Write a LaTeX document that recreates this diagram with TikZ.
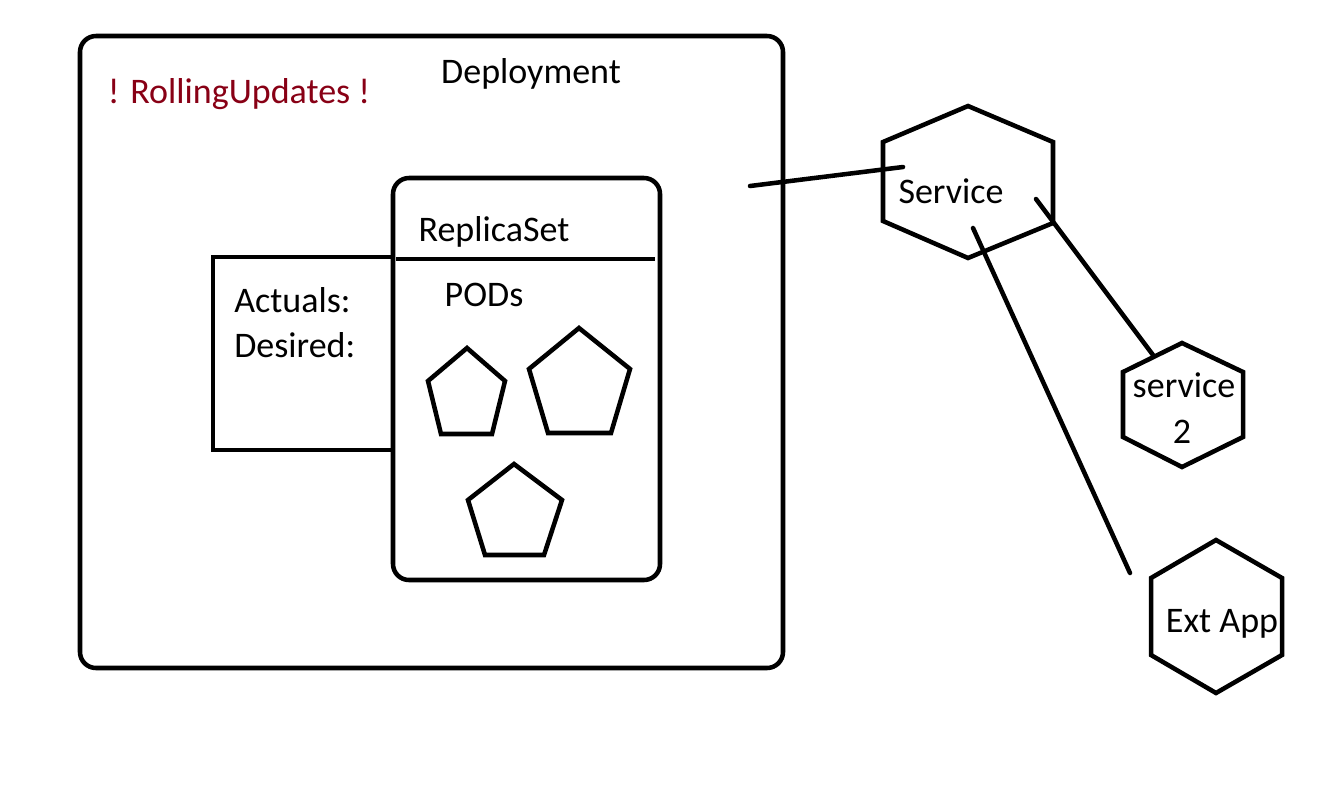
\documentclass[tikz,border=0pt]{standalone}
\usepackage{fontspec}
\setmainfont{Carlito}
\definecolor{paintred}{RGB}{136,0,21}

\begin{document}
\begin{tikzpicture}[x=0.75pt,y=-0.75pt,line width=3.4pt,
		lbl/.style={font=\fontsize{27}{32}\selectfont,inner sep=0pt,anchor=base},
		box/.style={draw,rounded corners=12pt},
		shp/.style={draw,line join=miter},
		wire/.style={draw,line cap=round}]
		\useasboundingbox (0,0) rectangle (1327,797);
		\path[box] (80,36) rectangle (783,668);
		\node[lbl] (deploy) at (531,83) {Deployment};
		\node[lbl,text=paintred] (rolling) at (239,103) {! RollingUpdates !};
		\path[shp] (393,257) -- (213,257) -- (213,450) -- (393,450);
		\node[lbl,anchor=base west] (actual) at (232,312) {Actuals:};
		\node[lbl,anchor=base west] (desired) at (232,357) {Desired:};
		\path[box] (393,178) rectangle (660,580);
		\path[shp] (396,259) -- (655,259);
		\node[lbl] (rs) at (494,241) {ReplicaSet};
		\node[lbl] (pods) at (484,306) {PODs};
		\path[shp] (467,348) -- (505,381) -- (492,434) -- (441,434) -- (428,381) -- cycle;
		\path[shp] (579,328) -- (630,369) -- (611,433) -- (548,433) -- (529,369) -- cycle;
		\path[shp] (514,464) -- (562,500) -- (544,555) -- (485,555) -- (468,500) -- cycle;
		\path[shp] (968,106) -- (1053,142) -- (1053,223) -- (968,258) -- (883,221) -- (883,142) -- cycle;
		\node[lbl] (svc) at (951,203) {Service};
		\path[shp] (1182,343) -- (1243,372) -- (1243,437) -- (1182,467) -- (1123,437) -- (1123,372) -- cycle;
		\node[lbl] (svc2) at (1184,397) {service};
		\node[lbl] (svc2num) at (1182,443) {2};
		\path[shp] (1216,540) -- (1282,578) -- (1282,655) -- (1216,693) -- (1151,655) -- (1151,578) -- cycle;
		\node[lbl] (ext) at (1222,632) {Ext App};
		\coordinate (dep-end) at (750,186);
		\coordinate (svc-w) at (903,167);
		\coordinate (svc-e) at (1036,199);
		\coordinate (svc2-end) at (1153,355);
		\coordinate (svc-s) at (973,228);
		\coordinate (ext-end) at (1130,573);
		\path[wire] (dep-end) -- (svc-w);
		\path[wire] (svc-e) -- (svc2-end);
		\path[wire] (svc-s) -- (ext-end);
\end{tikzpicture}
\end{document}
